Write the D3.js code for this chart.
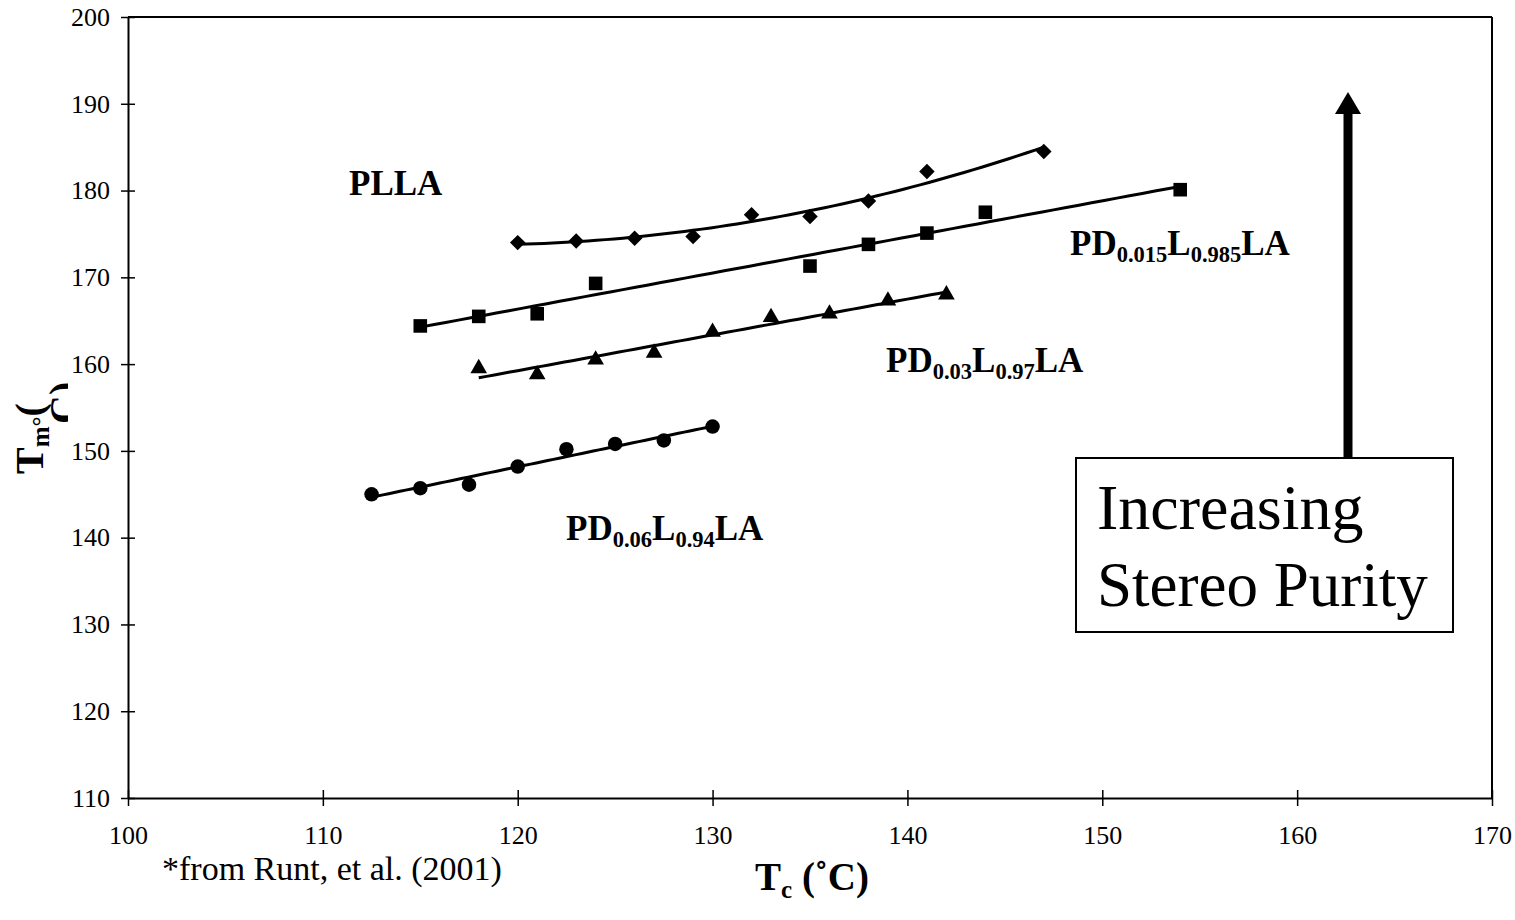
<!DOCTYPE html>
<html>
<head>
<meta charset="utf-8">
<script src="https://cdn.jsdelivr.net/npm/d3@7/dist/d3.min.js"></script>
<style>
  html, body { margin: 0; padding: 0; background: #fff; }
  svg { display: block; }
</style>
</head>
<body>
<svg id="chart" width="1515" height="920"></svg>
<script>
// ---- data ----
const xTicks = [100, 110, 120, 130, 140, 150, 160, 170];
const yTicks = [110, 120, 130, 140, 150, 160, 170, 180, 190, 200];

const pllaX = [120, 123, 126, 129, 132, 135, 138, 141, 147];
const pllaY = [174.0, 174.2, 174.5, 174.7, 177.2, 177.0, 178.8, 182.2, 184.5];

const pd015X = [115, 118, 121, 124, 135, 138, 141, 144, 154];
const pd015Y = [164.4, 165.5, 165.8, 169.3, 171.3, 173.8, 175.1, 177.5, 180.1];

const pd03X = [118, 121, 124, 127, 130, 133, 136, 139, 142];
const pd03Y = [159.5, 158.8, 160.5, 161.3, 163.7, 165.4, 165.8, 167.3, 168.0];

const pd06X = [112.5, 115, 117.5, 120, 122.5, 125, 127.5, 130];
const pd06Y = [145.0, 145.7, 146.1, 148.2, 150.2, 150.8, 151.2, 152.8];

// ---- layout ----
const svg = d3.select("#chart");
const x = d3.scaleLinear().domain([100, 170]).range([128, 1492]);
const y = d3.scaleLinear().domain([110, 200]).range([798, 17]);
const serif = '"Liberation Serif", "Times New Roman", Times, serif';

// frame (top and right)
svg.append("line").attr("x1", x(100)).attr("x2", x(170)).attr("y1", y(200)).attr("y2", y(200))
  .attr("stroke", "#000").attr("stroke-width", 2);
svg.append("line").attr("x1", x(170)).attr("x2", x(170)).attr("y1", y(200)).attr("y2", y(110))
  .attr("stroke", "#000").attr("stroke-width", 2);

// axes
const xAxis = d3.axisBottom(x).tickValues(xTicks).tickSizeInner(8).tickSizeOuter(0);
const yAxis = d3.axisLeft(y).tickValues(yTicks).tickSizeInner(7).tickSizeOuter(0);

const gx = svg.append("g").attr("transform", `translate(0,${y(110)})`).call(xAxis);
const gy = svg.append("g").attr("transform", `translate(${x(100)},0)`).call(yAxis);

[gx, gy].forEach(g => {
  g.attr("font-family", serif).attr("font-size", 26);
  g.select(".domain").attr("stroke", "#000").attr("stroke-width", 2);
  g.selectAll(".tick line").attr("stroke", "#000").attr("stroke-width", 1.5);
  g.selectAll(".tick text").attr("fill", "#000").style("font-family", serif);
});
// cross ticks (extend to both sides)
gx.selectAll(".tick line").attr("y1", -8).attr("y2", 8);
gy.selectAll(".tick line").attr("x1", 7).attr("x2", -7);
gy.selectAll(".tick text").attr("x", -18);
gx.selectAll(".tick text").attr("dy", "0.71em").attr("y", 28);

// ---- fits ----
function linFit(xs, ys) {
  const n = xs.length, mx = d3.mean(xs), my = d3.mean(ys);
  let sxy = 0, sxx = 0;
  for (let i = 0; i < n; i++) { sxy += (xs[i]-mx)*(ys[i]-my); sxx += (xs[i]-mx)**2; }
  const b = sxy / sxx, a = my - b*mx;
  return v => a + b*v;
}
function quadFit(xs, ys) {
  const mx = d3.mean(xs);
  const t = xs.map(v => v - mx);
  const S = k => d3.sum(t, v => v**k);
  const T = k => d3.sum(t.map((v,i) => v**k * ys[i]));
  const A = [[S(0),S(1),S(2)],[S(1),S(2),S(3)],[S(2),S(3),S(4)]];
  const B = [T(0),T(1),T(2)];
  const det = m => m[0][0]*(m[1][1]*m[2][2]-m[1][2]*m[2][1]) - m[0][1]*(m[1][0]*m[2][2]-m[1][2]*m[2][0]) + m[0][2]*(m[1][0]*m[2][1]-m[1][1]*m[2][0]);
  const D = det(A);
  const c = [0,1,2].map(j => det(A.map((row,i) => row.map((val,k) => k===j ? B[i] : val))) / D);
  return v => c[0] + c[1]*(v-mx) + c[2]*(v-mx)**2;
}

const lineGen = d3.line().x(d => x(d[0])).y(d => y(d[1]));
function drawFit(xs, f) {
  const x0 = d3.min(xs), x1 = d3.max(xs);
  const pts = d3.range(0, 61).map(i => { const v = x0 + (x1-x0)*i/60; return [v, f(v)]; });
  svg.append("path").attr("d", lineGen(pts)).attr("fill", "none").attr("stroke", "#000").attr("stroke-width", 3);
}
drawFit(pllaX, quadFit(pllaX, pllaY));
drawFit(pd015X, linFit(pd015X, pd015Y));
drawFit(pd03X, linFit(pd03X, pd03Y));
drawFit(pd06X, linFit(pd06X, pd06Y));

// ---- markers ----
function drawMarkers(xs, ys, type, size, rot) {
  const sym = d3.symbol().type(type).size(size);
  svg.append("g").selectAll("path").data(xs.map((v,i) => [v, ys[i]])).join("path")
    .attr("d", sym)
    .attr("transform", d => `translate(${x(d[0])},${y(d[1])}) rotate(${rot})`)
    .attr("fill", "#000");
}
drawMarkers(pllaX, pllaY, d3.symbolSquare, 120, 45);
drawMarkers(pd015X, pd015Y, d3.symbolSquare, 185, 0);
drawMarkers(pd03X, pd03Y, d3.symbolTriangle, 120, 0);
drawMarkers(pd06X, pd06Y, d3.symbolCircle, 165, 0);

// ---- series labels ----
function seriesLabel(px, py, parts) {
  const t = svg.append("text").attr("x", px).attr("y", py)
    .attr("font-family", serif).attr("font-weight", "bold").attr("font-size", 35);
  let prevSub = false;
  parts.forEach(p => {
    const isSub = p[1];
    const ts = t.append("tspan").text(p[0]).attr("font-size", isSub ? 22.5 : 35);
    if (isSub && !prevSub) ts.attr("dy", 7);
    if (!isSub && prevSub) ts.attr("dy", -7);
    prevSub = isSub;
  });
}
seriesLabel(349, 195, [["PLLA", false]]);
seriesLabel(1070, 255, [["PD", false], ["0.015", true], ["L", false], ["0.985", true], ["LA", false]]);
seriesLabel(886, 372, [["PD", false], ["0.03", true], ["L", false], ["0.97", true], ["LA", false]]);
seriesLabel(566, 540, [["PD", false], ["0.06", true], ["L", false], ["0.94", true], ["LA", false]]);

// ---- arrow + box ----
svg.append("line").attr("x1", 1348).attr("x2", 1348).attr("y1", 458).attr("y2", 108)
  .attr("stroke", "#000").attr("stroke-width", 9);
svg.append("path").attr("d", "M1348,92 L1361,114 L1335,114 Z").attr("fill", "#000");
svg.append("rect").attr("x", 1076).attr("y", 458).attr("width", 377).attr("height", 174)
  .attr("fill", "#fff").attr("stroke", "#000").attr("stroke-width", 2);
svg.append("text").attr("x", 1097).attr("y", 529).attr("font-family", serif).attr("font-size", 64).text("Increasing");
svg.append("text").attr("x", 1097).attr("y", 606).attr("font-family", serif).attr("font-size", 63).text("Stereo Purity");

// ---- axis titles ----
const xt = svg.append("text").attr("x", 755).attr("y", 890).attr("font-family", serif)
  .attr("font-weight", "bold").attr("font-size", 39);
xt.append("tspan").text("T");
xt.append("tspan").text("c").attr("font-size", 25).attr("dy", 8);
xt.append("tspan").text(" (˚C)").attr("dy", -8);

svg.append("text").attr("x", 162).attr("y", 880).attr("font-family", serif).attr("font-size", 34)
  .text("*from Runt, et al. (2001)");

// y title (wrapped & clipped as in the reference)
const defs = svg.append("defs");
defs.append("clipPath").attr("id", "yclip").append("rect").attr("x", 0).attr("y", 370).attr("width", 68).attr("height", 130);
const yg = svg.append("g").attr("clip-path", "url(#yclip)");
const yt = yg.append("text").attr("transform", "translate(43,474) rotate(-90)")
  .attr("font-family", serif).attr("font-weight", "bold").attr("font-size", 40);
yt.append("tspan").text("T");
yt.append("tspan").text("m").attr("font-size", 25).attr("dy", 6);
yt.append("tspan").text("°").attr("font-size", 25);
yt.append("tspan").text("(").attr("dy", -6);
yg.append("text").attr("transform", "translate(77,424) rotate(-90)")
  .attr("font-family", serif).attr("font-weight", "bold").attr("font-size", 40).text("C)");
</script>
</body>
</html>
